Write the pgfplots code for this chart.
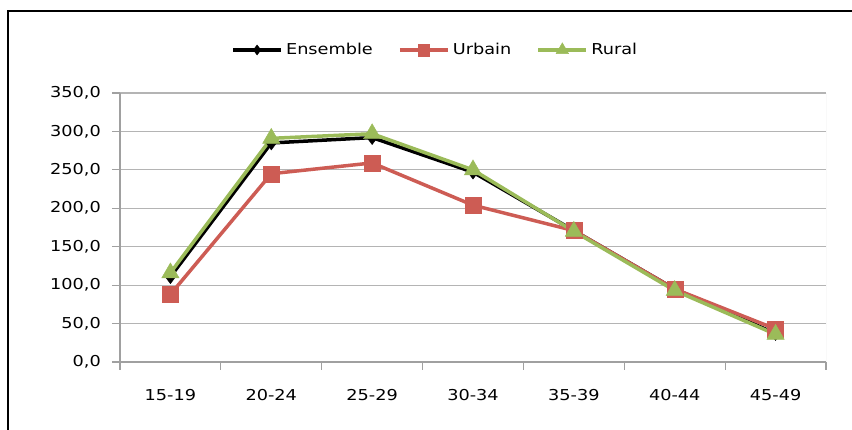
\documentclass[border=0pt]{standalone}
\usepackage{fontspec}
\setmainfont[FakeStretch=1.18]{DejaVu Sans}
\usepackage{pgfplots}
\pgfplotsset{compat=1.18}
\definecolor{urb}{HTML}{CD5C54}
\definecolor{rur}{HTML}{9BBB59}
\definecolor{gridc}{HTML}{B4B4B4}
\definecolor{axc}{HTML}{A0A0A0}
\begin{document}
\fontsize{15bp}{18bp}\selectfont
\begin{tikzpicture}
\useasboundingbox (0,0) rectangle (852bp,430bp);
\draw[black, line width=1.3bp] (8bp,-20bp) -- (8bp,419bp) -- (870bp,419bp);
\begin{axis}[
  at={(120bp,68bp)}, anchor=south west,
  scale only axis, width=706bp, height=269bp,
  xmin=-0.5, xmax=6.5, ymin=0, ymax=350,
  axis x line=bottom, axis y line=left,
  axis line style={-, axc, line width=1.2bp},
  xtick={0,...,6},
  xticklabels={15-19,20-24,25-29,30-34,35-39,40-44,45-49},
  minor xtick={-0.5,0.5,...,6.5},
  major x tick style={draw=none},
  minor x tick style={axc, line width=1.2bp},
  ytick={0,50,...,350},
  y tick style={axc, line width=1.2bp},
  tick align=outside,
  major tick length=8bp, minor tick length=8bp,
  ymajorgrids,
  major grid style={gridc, line width=1.2bp},
  /pgf/number format/fixed, /pgf/number format/fixed zerofill,
  /pgf/number format/precision=1, /pgf/number format/use comma,
  /pgf/number format/assume math mode=true,
  yticklabel style={xshift=-6bp},
  xticklabel style={yshift=-14bp},
  tick label style={font=\fontsize{15bp}{18bp}\selectfont},
  legend columns=3,
  legend style={at={(0.447,1.16)}, anchor=center, draw=none, fill=none,
    font=\fontsize{15bp}{18bp}\selectfont,
    /tikz/every even column/.append style={column sep=22bp},
    nodes={inner sep=3bp}},
  legend image code/.code={
    \draw[mark repeat=2,mark phase=2,#1, line width=4bp, every mark/.append style={scale=0.72}] plot coordinates {(0bp,0bp)(24bp,0bp)(48bp,0bp)};},
]
\draw[very thin, gridc!60] (rel axis cs:1,0) -- (rel axis cs:1,1);
\addplot[black, line width=3.5bp, mark=diamond*, mark size=7bp, mark options={solid, line width=0.4bp}] coordinates {
(0,111) (1,285) (2,292) (3,247) (4,171) (5,95) (6,37)};
\addlegendentry{Ensemble}
\addplot[urb, line width=3.5bp, mark=square*, mark size=8bp, mark options={solid, line width=0.4bp}] coordinates {
(0,88) (1,245) (2,259) (3,204) (4,171) (5,95) (6,43)};
\addlegendentry{Urbain}
\addplot[rur, line width=3.5bp, mark=triangle*, mark size=10bp, mark options={solid, line width=0.4bp}] coordinates {
(0,116) (1,291) (2,297) (3,250) (4,170) (5,93) (6,36)};
\addlegendentry{Rural}
\end{axis}
\end{tikzpicture}
\end{document}
